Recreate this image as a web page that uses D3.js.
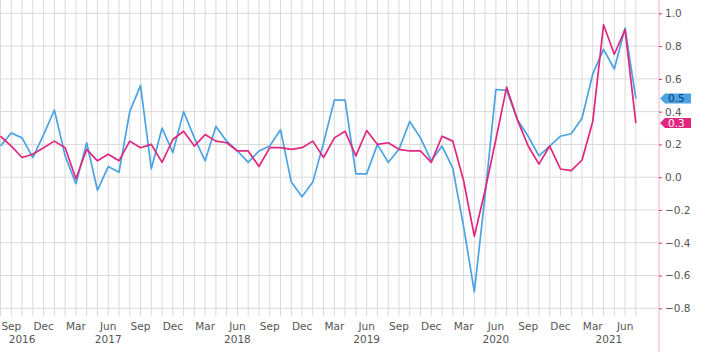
<!DOCTYPE html>
<html>
<head>
<meta charset="utf-8">
<script src="https://cdn.jsdelivr.net/npm/d3@7"></script>
<style>
  body { margin: 0; background: #fff; }
  svg { display: block; font-family: "DejaVu Sans", Verdana, sans-serif; }
</style>
</head>
<body>
<div id="chart"></div>
<script>
const width = 708;
const height = 352;

// monthly, Aug 2016 .. Jul 2021
const startYear = 2016;
const startMonth = 7; // August (0-based)
const monthNames = ["Jan", "Feb", "Mar", "Apr", "May", "Jun", "Jul", "Aug", "Sep", "Oct", "Nov", "Dec"];
const labelMonths = ["Sep", "Dec", "Mar", "Jun"];

// headline (blue)
const headline = [
    0.19, 0.27, 0.24, 0.12, 0.26,
    0.41, 0.13, -0.04, 0.21, -0.08, 0.065, 0.03, 0.40, 0.56, 0.05, 0.30, 0.15,
    0.40, 0.24, 0.10, 0.31, 0.22, 0.16, 0.09, 0.16, 0.19, 0.29, -0.03, -0.12,
    -0.03, 0.21, 0.47, 0.47, 0.02, 0.02, 0.20, 0.09, 0.17, 0.34, 0.24, 0.10,
    0.19, 0.055, -0.30, -0.70, -0.11, 0.535, 0.53, 0.35, 0.25, 0.13, 0.19, 0.25,
    0.265, 0.36, 0.63, 0.78, 0.66, 0.91, 0.48
];

// core (pink)
const core = [
    0.25, 0.19, 0.12, 0.14, 0.18,
    0.22, 0.18, -0.01, 0.17, 0.10, 0.14, 0.10, 0.22, 0.18, 0.20, 0.09, 0.23,
    0.28, 0.19, 0.26, 0.22, 0.21, 0.16, 0.16, 0.065, 0.18, 0.18, 0.17, 0.18,
    0.22, 0.12, 0.24, 0.28, 0.13, 0.285, 0.20, 0.21, 0.17, 0.16, 0.16, 0.09,
    0.25, 0.22, -0.02, -0.36, -0.08, 0.23, 0.55, 0.35, 0.19, 0.08, 0.19, 0.05,
    0.04, 0.105, 0.34, 0.93, 0.75, 0.90, 0.33
];

const yTicks = [-0.8, -0.6, -0.4, -0.2, 0.0, 0.2, 0.4, 0.6, 0.8, 1.0];
// year label positions, in month index
const yearLabels = [
    { year: "2016", at: 2 },
    { year: "2017", at: 10 },
    { year: "2018", at: 22 },
    { year: "2019", at: 34 },
    { year: "2020", at: 46 },
    { year: "2021", at: 56.5 }
];
const lastLabels = [
    { text: "0.5", value: headline[headline.length - 1], color: "#4ba3e3", textColor: "#0f3f6e" },
    { text: "0.3", value: core[core.length - 1], color: "#e0267f", textColor: "#fff" }
];

const blueColor = "#4ba3e3";
const pinkColor = "#e0267f";

const months = headline.map((d, i) => {
    const m = (startMonth + i) % 12;
    return { i: i, name: monthNames[m], year: startYear + Math.floor((startMonth + i) / 12) };
});

const plotRight = 659;
const plotBottom = 316;

const xScale = d3.scaleLinear()
    .domain([-0.05, 61.15])
    .range([0, plotRight]);

const yScale = d3.scaleLinear()
    .domain([-0.8, 1.0])
    .range([308.3, 13.3]);

const svg = d3.select("#chart")
    .append("svg")
    .attr("width", width)
    .attr("height", height);

// gridlines
svg.append("g")
    .selectAll("line")
    .data(months)
    .enter()
    .append("line")
    .attr("x1", d => xScale(d.i))
    .attr("x2", d => xScale(d.i))
    .attr("y1", 0)
    .attr("y2", plotBottom)
    .attr("stroke", "#d9d9d9")
    .attr("stroke-width", 1);

svg.append("g")
    .selectAll("line")
    .data(yTicks)
    .enter()
    .append("line")
    .attr("x1", 0)
    .attr("x2", plotRight)
    .attr("y1", d => yScale(d))
    .attr("y2", d => yScale(d))
    .attr("stroke", "#d9d9d9")
    .attr("stroke-width", 1);

// lines
const line = (values) => d3.line()
    .x((d, i) => xScale(i))
    .y(d => yScale(d))(values);

svg.append("path")
    .attr("d", line(headline))
    .attr("fill", "none")
    .attr("stroke", blueColor)
    .attr("stroke-width", 1.7)
    .attr("stroke-linejoin", "round");

svg.append("path")
    .attr("d", line(core))
    .attr("fill", "none")
    .attr("stroke", pinkColor)
    .attr("stroke-width", 1.7)
    .attr("stroke-linejoin", "round");

// right axis
const yAxis = d3.axisRight(yScale)
    .tickValues(yTicks)
    .tickFormat(d3.format(".1f"))
    .tickSize(3)
    .tickPadding(3);

const yAxisGroup = svg.append("g")
    .attr("transform", `translate(${plotRight}, 0)`)
    .call(yAxis);

yAxisGroup.select(".domain")
    .attr("d", `M0,0V${height}`)
    .attr("stroke", "#f6b1d2");
yAxisGroup.selectAll(".tick line").attr("stroke", "#e0267f");
yAxisGroup.selectAll(".tick text")
    .attr("fill", "#555")
    .style("font-size", "10.5px")
    .style("font-family", "'DejaVu Sans', Verdana, sans-serif");

// last value tags
const tags = svg.append("g")
    .selectAll("g")
    .data(lastLabels)
    .enter()
    .append("g")
    .attr("transform", d => `translate(${plotRight + 1}, ${yScale(d.value)})`);

tags.append("path")
    .attr("d", "M0,0L5,-5H31V5H5Z")
    .attr("fill", d => d.color);

tags.append("text")
    .attr("x", 8)
    .attr("dy", "0.36em")
    .attr("fill", d => d.textColor)
    .style("font-size", "10.5px")
    .text(d => d.text);

// x labels
svg.append("g")
    .selectAll("text")
    .data(months.filter(d => labelMonths.includes(d.name)))
    .enter()
    .append("text")
    .attr("x", d => xScale(d.i))
    .attr("y", 330)
    .attr("text-anchor", "middle")
    .attr("fill", "#555")
    .style("font-size", "10.5px")
    .text(d => d.name);

svg.append("g")
    .selectAll("text")
    .data(yearLabels)
    .enter()
    .append("text")
    .attr("x", d => xScale(d.at))
    .attr("y", 343)
    .attr("text-anchor", "middle")
    .attr("fill", "#555")
    .style("font-size", "10.5px")
    .text(d => d.year);
</script>
</body>
</html>
